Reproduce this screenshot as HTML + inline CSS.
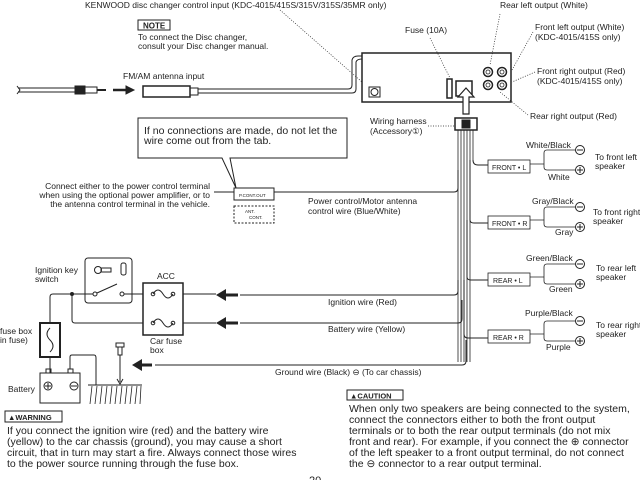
<!DOCTYPE html>
<html><head><meta charset="utf-8"><style>
html,body{margin:0;padding:0;background:#fff;}
svg{display:block;}
text{font-family:"Liberation Sans",sans-serif;fill:#222;}
.s{font-size:8.5px;}
.b{font-size:10.5px;}
</style></head><body>
<svg width="640" height="480" viewBox="0 0 640 480" xmlns="http://www.w3.org/2000/svg" fill="none" stroke="#222" stroke-width="1">
<text class="s" x="85" y="8" stroke="none">KENWOOD disc changer control input (KDC-4015/415S/315V/315S/35MR only)</text>
<text class="s" x="500" y="8" stroke="none">Rear left output (White)</text>
<rect x="138" y="20" width="32" height="10" stroke-width="1"/>
<text x="143" y="28.5" stroke="none" style="font-size:8px;font-weight:bold">NOTE</text>
<text class="s" x="138" y="40" stroke="none">To connect the Disc changer,</text>
<text class="s" x="138" y="49" stroke="none">consult your Disc changer manual.</text>
<text class="s" x="405" y="33" stroke="none">Fuse (10A)</text>
<text class="s" x="535" y="30" stroke="none">Front left output (White)</text>
<text class="s" x="535" y="40" stroke="none">(KDC-4015/415S only)</text>
<text class="s" x="537" y="74" stroke="none">Front right output (Red)</text>
<text class="s" x="537" y="84" stroke="none">(KDC-4015/415S only)</text>
<text class="s" x="530" y="119" stroke="none">Rear right output (Red)</text>
<g stroke-dasharray="1,1.5" stroke-width="0.7">
<path d="M280 10 L362 82"/><path d="M430 38 L450 78"/><path d="M500 14 L490 65"/>
<path d="M533 32 L512 70"/><path d="M535 72 L512 82"/><path d="M528 115 L500 92"/>
<path d="M428 126 L455 126"/>
</g>
<text class="s" x="123" y="79" stroke="none">FM/AM antenna input</text>
<path d="M18 88 L75 88 M18 92 L75 92"/><path d="M17 86 L20 90 L17 94"/>
<rect x="75" y="86" width="10" height="8" fill="#222"/><rect x="85" y="87" width="12" height="6"/><path d="M97 90 L106 90" stroke-width="2"/>
<path d="M113 90 L127 90" stroke-width="2.5"/><path d="M126 86 L134 90 L126 94 Z" fill="#222"/>
<rect x="143" y="86" width="47" height="11" stroke-width="1.5"/><rect x="190" y="88" width="8" height="7"/>
<path d="M198 89 L348 89 Q352 89 352 85 L352 60 Q353 56 358 56 L362 56"/>
<path d="M198 93 L352 93 Q356 93 356 89 L356 62 Q357 59 362 59"/>
<rect x="362" y="53" width="149" height="49" stroke-width="1.5"/>
<rect x="369" y="87" width="11" height="10"/><circle cx="374.5" cy="92" r="3.5"/>
<rect x="447" y="79" width="5" height="19" stroke-width="1.5"/>
<rect x="456" y="81" width="16" height="15" stroke-width="1.5"/>
<g stroke-width="1.5"><circle cx="488" cy="72" r="4.5"/><circle cx="502" cy="72" r="4.5"/><circle cx="488" cy="85" r="4.5"/><circle cx="502" cy="85" r="4.5"/></g>
<g stroke-width="0.8"><circle cx="488" cy="72" r="2"/><circle cx="502" cy="72" r="2"/><circle cx="488" cy="85" r="2"/><circle cx="502" cy="85" r="2"/></g>
<path d="M463 114 L463 97 L458 97 L466 88 L474 97 L469 97 L469 114 Z" fill="#fff" stroke-width="1.2"/>
<text class="s" x="370" y="124" stroke="none">Wiring harness</text>
<text class="s" x="370" y="134" stroke="none">(Accessory①)</text>
<rect x="455" y="118" width="22" height="12" stroke-width="1.5"/><rect x="462" y="120" width="8" height="8" fill="#222"/>
<g stroke-width="0.8"><path d="M458 130 L458 362"/><path d="M461 130 L461 362"/><path d="M464 130 L464 362"/><path d="M467 130 L467 362"/><path d="M470 130 L470 362"/><path d="M473 130 L473 160"/></g>
<path d="M138 118 L347 118 L347 158 L232 158 L230 158 L236 188 L222 158 L138 158 Z" fill="#fff"/>
<text class="b" x="144" y="134" stroke="none">If no connections are made, do not let the</text>
<text class="b" x="144" y="144" stroke="none">wire come out from the tab.</text>
<text class="s" x="210" y="189" text-anchor="end" stroke="none">Connect either to the power control terminal</text>
<text class="s" x="210" y="198" text-anchor="end" stroke="none">when using the optional power amplifier, or to</text>
<text class="s" x="210" y="207" text-anchor="end" stroke="none">the antenna control terminal in the vehicle.</text>
<path d="M214 192 L454 192 Q458 192 458 188 L458 170"/>
<rect x="234" y="188" width="40" height="12" fill="#fff"/><text x="239" y="197" stroke="none" style="font-size:4.5px">P.CONT.OUT</text>
<rect x="234" y="206" width="40" height="17" stroke-dasharray="2,1.5"/><text x="245" y="213" stroke="none" style="font-size:4.5px">ANT.</text><text x="249" y="219" stroke="none" style="font-size:4.5px">CONT.</text>
<text class="s" x="308" y="204" stroke="none">Power control/Motor antenna</text>
<text class="s" x="308" y="214" stroke="none">control wire (Blue/White)</text>
<path d="M473 160 Q473 165 478 165 L488 165 M470 160 L470 220 Q470 223 474 223 L488 223 M467 220 L467 277 Q467 280 471 280 L488 280 M464 280 L464 334 Q464 338 468 338 L488 338"/>
<g stroke-width="0.8">
<rect x="488" y="160" width="42" height="13"/><rect x="488" y="216" width="42" height="13"/><rect x="488" y="273" width="42" height="13"/><rect x="488" y="330" width="42" height="13"/>
</g>
<g stroke="none" style="font-size:7px">
<text x="492" y="170">FRONT • L</text><text x="492" y="226">FRONT • R</text><text x="493" y="283">REAR • L</text><text x="493" y="340">REAR • R</text>
</g>
<g stroke-width="0.8">
<path d="M530 164 H544 M544 153 Q544 150 547 150 H575 M544 153 V167 Q544 170 547 170 H575"/>
<path d="M530 220 H544 M544 210 Q544 207 547 207 H575 M544 210 V224 Q544 227 547 227 H575"/>
<path d="M530 277 H544 M544 267 Q544 264 547 264 H575 M544 267 V281 Q544 284 547 284 H575"/>
<path d="M530 334 H544 M544 324 Q544 321 547 321 H575 M544 324 V338 Q544 341 547 341 H575"/>
</g>
<g stroke-width="1">
<circle cx="580" cy="150" r="4.5" fill="#fff"/><path d="M577 150 L583 150"/><circle cx="580" cy="170" r="4.5" fill="#fff"/><path d="M577 170 L583 170 M580 167 L580 173"/>
<circle cx="580" cy="207" r="4.5" fill="#fff"/><path d="M577 207 L583 207"/><circle cx="580" cy="227" r="4.5" fill="#fff"/><path d="M577 227 L583 227 M580 224 L580 230"/>
<circle cx="580" cy="264" r="4.5" fill="#fff"/><path d="M577 264 L583 264"/><circle cx="580" cy="284" r="4.5" fill="#fff"/><path d="M577 284 L583 284 M580 281 L580 287"/>
<circle cx="580" cy="321" r="4.5" fill="#fff"/><path d="M577 321 L583 321"/><circle cx="580" cy="341" r="4.5" fill="#fff"/><path d="M577 341 L583 341 M580 338 L580 344"/>
</g>
<g class="s" stroke="none">
<text x="526" y="148">White/Black</text><text x="548" y="180">White</text><text x="595" y="160">To front left</text><text x="595" y="169">speaker</text>
<text x="532" y="204">Gray/Black</text><text x="555" y="235">Gray</text><text x="593" y="215">To front right</text><text x="593" y="224">speaker</text>
<text x="526" y="261">Green/Black</text><text x="549" y="292">Green</text><text x="596" y="271">To rear left</text><text x="596" y="280">speaker</text>
<text x="525" y="316">Purple/Black</text><text x="546" y="350">Purple</text><text x="596" y="328">To rear right</text><text x="596" y="337">speaker</text>
</g>
<path d="M240 295 L454 295 Q458 295 458 291 L458 280"/>
<path d="M240 323 L458 323 Q462 323 462 319 L462 300"/>
<path d="M155 365 L462 365 Q466 365 466 361 L466 340"/>
<g fill="#222" stroke="none">
<rect x="222" y="293.5" width="16" height="3"/><path d="M226 289 L216 295 L226 301 Z"/>
<rect x="222" y="321.5" width="16" height="3"/><path d="M226 317 L216 323 L226 329 Z"/>
<rect x="140" y="363.5" width="12" height="3"/><path d="M142 359 L132 365 L142 371 Z"/>
</g>
<text class="s" x="328" y="305" stroke="none">Ignition wire (Red)</text>
<text class="s" x="328" y="332" stroke="none">Battery wire (Yellow)</text>
<text class="s" x="275" y="375" stroke="none">Ground wire (Black) ⊖ (To car chassis)</text>
<text class="s" x="35" y="273" stroke="none">Ignition key</text>
<text class="s" x="35" y="282" stroke="none">switch</text>
<rect x="85" y="258" width="47" height="45" rx="3"/>
<circle cx="98" cy="270" r="3.5"/><rect x="101" y="268" width="10" height="4"/><rect x="121" y="263" width="5" height="12" rx="2"/>
<circle cx="95" cy="294" r="2"/><circle cx="122" cy="294" r="2"/><path d="M97 293 L117 284 M124 294 L143 294"/>
<path d="M93 294 L53 294 Q50 294 50 297 L50 323 M72 294 L72 320 Q72 323 75 323 L143 323"/>
<circle cx="72" cy="294" r="1.5" fill="#222"/>
<text class="s" x="157" y="279" stroke="none">ACC</text>
<rect x="143" y="283" width="40" height="52" stroke-width="1.5"/>
<path d="M153 294 Q158 286 163 294 Q168 302 173 294 M153 323 Q158 315 163 323 Q168 331 173 323"/>
<circle cx="153" cy="294" r="1.8"/><circle cx="173" cy="294" r="1.8"/><circle cx="153" cy="323" r="1.8"/><circle cx="173" cy="323" r="1.8"/>
<path d="M183 294 L216 294 M183 323 L216 323"/>
<text class="s" x="150" y="344" stroke="none">Car fuse</text><text class="s" x="150" y="353" stroke="none">box</text>
<text class="s" x="0" y="334" stroke="none">fuse box</text><text class="s" x="0" y="343" stroke="none">in fuse)</text>
<rect x="40" y="323" width="20" height="34" stroke-width="2"/>
<path d="M50 328 Q44 334 50 340 Q56 346 50 352"/>
<path d="M50 357 L50 373"/>
<rect x="40" y="373" width="40" height="30"/><rect x="46" y="369" width="5" height="4"/><rect x="68" y="369" width="5" height="4"/>
<circle cx="48" cy="386" r="4"/><path d="M45 386 L51 386 M48 383 L48 389"/><circle cx="74" cy="386" r="4"/><path d="M71 386 L77 386"/>
<text class="s" x="8" y="392" stroke="none">Battery</text>
<path d="M70 369 L70 357 Q70 355 72 355 L94 355 Q96 355 96 358 L96 385"/>
<path d="M88 385 L142 385"/>
<path d="M92 386 L90 404 M97 386 L95 404 M102 386 L100 404 M107 386 L105 404 M112 386 L110 404 M117 386 L115 404 M122 386 L120 404 M127 386 L125 404 M132 386 L130 404 M137 386 L135 404 M141 386 L140 404" stroke-width="0.8"/>
<rect x="116" y="343" width="8" height="4"/><rect x="118" y="347" width="4" height="8"/><path d="M120 355 L120 382"/><path d="M117 379 L120 384 L123 379"/>
<rect x="5" y="411" width="57" height="11"/>
<text x="8" y="420" stroke="none" style="font-size:7.5px;font-weight:bold">▲WARNING</text>
<text class="b" x="7" y="434" stroke="none">If you connect the ignition wire (red) and the battery wire</text>
<text class="b" x="7" y="445" stroke="none">(yellow) to the car chassis (ground), you may cause a short</text>
<text class="b" x="7" y="456" stroke="none">circuit, that in turn may start a fire. Always connect those wires</text>
<text class="b" x="7" y="467" stroke="none">to the power source running through the fuse box.</text>
<rect x="347" y="390" width="56" height="10"/>
<text x="350" y="398.5" stroke="none" style="font-size:7.5px;font-weight:bold">▲CAUTION</text>
<text class="b" x="349" y="412" stroke="none">When only two speakers are being connected to the system,</text>
<text class="b" x="349" y="423" stroke="none">connect the connectors either to both the front output</text>
<text class="b" x="349" y="434" stroke="none">terminals or to both the rear output terminals (do not mix</text>
<text class="b" x="349" y="445" stroke="none">front and rear). For example, if you connect the ⊕ connector</text>
<text class="b" x="349" y="456" stroke="none">of the left speaker to a front output terminal, do not connect</text>
<text class="b" x="349" y="467" stroke="none">the ⊖ connector to a rear output terminal.</text>
<text x="309" y="484" stroke="none" style="font-size:11px">20</text>
</svg>
</body></html>
